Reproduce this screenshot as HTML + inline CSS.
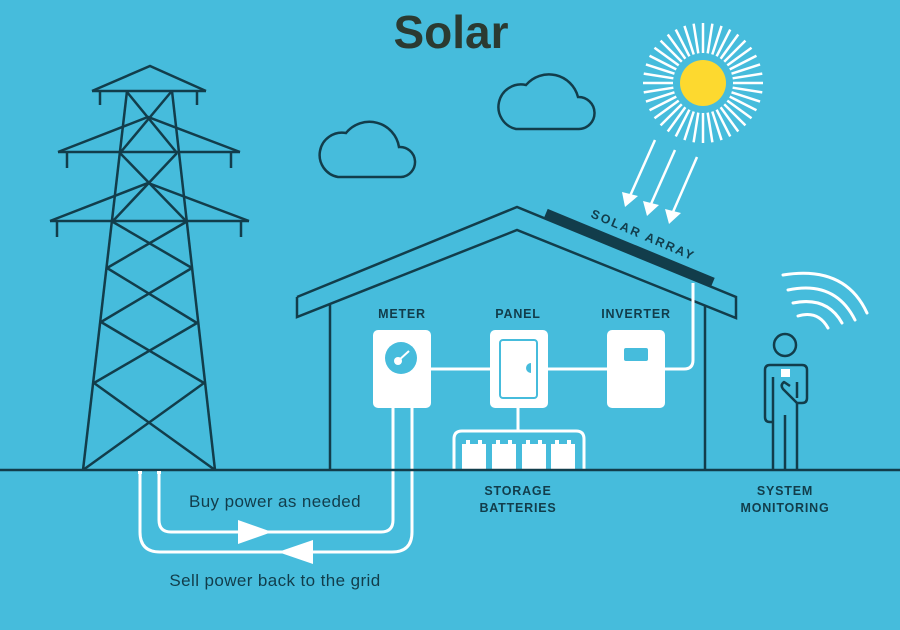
<!DOCTYPE html>
<html><head><meta charset="utf-8"><style>
html,body{margin:0;padding:0;background:#46bcdc;}
svg{display:block}
text{font-family:"Liberation Sans",sans-serif;}
</style></head><body>
<svg width="900" height="630" viewBox="0 0 900 630" xmlns="http://www.w3.org/2000/svg">
<rect width="900" height="630" fill="#46bcdc"/>
<text x="451" y="48" text-anchor="middle" font-size="46" fill="#2b3a31" font-weight="bold">Solar</text>

<!-- tower -->
<g stroke="#123d4b" stroke-width="2.5" fill="none" stroke-linecap="butt">
<line x1="127" y1="91" x2="83" y2="470"/><line x1="172" y1="91" x2="215" y2="470"/>
<polyline points="92,91 150,66 206,91"/><line x1="92" y1="91" x2="206" y2="91"/>
<line x1="100" y1="91" x2="100" y2="105"/><line x1="197" y1="91" x2="197" y2="105"/>
<line x1="58" y1="152" x2="240" y2="152"/><polyline points="58,152 148,117 240,152"/>
<line x1="67" y1="152" x2="67" y2="168"/><line x1="231" y1="152" x2="231" y2="168"/>
<line x1="50" y1="221" x2="249" y2="221"/><polyline points="50,221 148,183 249,221"/>
<line x1="57" y1="221" x2="57" y2="237"/><line x1="241" y1="221" x2="241" y2="237"/>
<line x1="127" y1="92" x2="177" y2="153"/><line x1="171" y1="92" x2="120" y2="153"/>
<line x1="120" y1="153" x2="186" y2="221"/><line x1="177" y1="153" x2="113" y2="221"/>
<line x1="113" y1="222" x2="192" y2="268"/><line x1="186" y1="222" x2="107" y2="268"/>
<line x1="107" y1="268" x2="197" y2="323"/><line x1="192" y1="268" x2="101" y2="322"/>
<line x1="101" y1="322" x2="204" y2="383"/><line x1="197" y1="323" x2="94" y2="383"/>
<line x1="94" y1="383" x2="215" y2="470"/><line x1="204" y1="383" x2="83" y2="470"/>
</g>

<!-- clouds -->
<g stroke="#123d4b" stroke-width="2.5" fill="none">
<path d="M338,177 A22,22 0 0 1 346,133 A30,30 0 0 1 399,147 A15,15 0 0 1 401,177 Z"/>
<path d="M516,129 A22,22 0 0 1 526,85 A30,30 0 0 1 578,97 A16,16 0 0 1 579,129 Z"/>
</g>

<!-- sun -->
<g stroke="#fff" stroke-width="2.5">
<line x1="733" y1="83" x2="763" y2="83"/>
<line x1="733" y1="83" x2="763" y2="83" transform="rotate(9 703 83)"/>
<line x1="733" y1="83" x2="763" y2="83" transform="rotate(18 703 83)"/>
<line x1="733" y1="83" x2="763" y2="83" transform="rotate(27 703 83)"/>
<line x1="733" y1="83" x2="763" y2="83" transform="rotate(36 703 83)"/>
<line x1="733" y1="83" x2="763" y2="83" transform="rotate(45 703 83)"/>
<line x1="733" y1="83" x2="763" y2="83" transform="rotate(54 703 83)"/>
<line x1="733" y1="83" x2="763" y2="83" transform="rotate(63 703 83)"/>
<line x1="733" y1="83" x2="763" y2="83" transform="rotate(72 703 83)"/>
<line x1="733" y1="83" x2="763" y2="83" transform="rotate(81 703 83)"/>
<line x1="733" y1="83" x2="763" y2="83" transform="rotate(90 703 83)"/>
<line x1="733" y1="83" x2="763" y2="83" transform="rotate(99 703 83)"/>
<line x1="733" y1="83" x2="763" y2="83" transform="rotate(108 703 83)"/>
<line x1="733" y1="83" x2="763" y2="83" transform="rotate(117 703 83)"/>
<line x1="733" y1="83" x2="763" y2="83" transform="rotate(126 703 83)"/>
<line x1="733" y1="83" x2="763" y2="83" transform="rotate(135 703 83)"/>
<line x1="733" y1="83" x2="763" y2="83" transform="rotate(144 703 83)"/>
<line x1="733" y1="83" x2="763" y2="83" transform="rotate(153 703 83)"/>
<line x1="733" y1="83" x2="763" y2="83" transform="rotate(162 703 83)"/>
<line x1="733" y1="83" x2="763" y2="83" transform="rotate(171 703 83)"/>
<line x1="733" y1="83" x2="763" y2="83" transform="rotate(180 703 83)"/>
<line x1="733" y1="83" x2="763" y2="83" transform="rotate(189 703 83)"/>
<line x1="733" y1="83" x2="763" y2="83" transform="rotate(198 703 83)"/>
<line x1="733" y1="83" x2="763" y2="83" transform="rotate(207 703 83)"/>
<line x1="733" y1="83" x2="763" y2="83" transform="rotate(216 703 83)"/>
<line x1="733" y1="83" x2="763" y2="83" transform="rotate(225 703 83)"/>
<line x1="733" y1="83" x2="763" y2="83" transform="rotate(234 703 83)"/>
<line x1="733" y1="83" x2="763" y2="83" transform="rotate(243 703 83)"/>
<line x1="733" y1="83" x2="763" y2="83" transform="rotate(252 703 83)"/>
<line x1="733" y1="83" x2="763" y2="83" transform="rotate(261 703 83)"/>
<line x1="733" y1="83" x2="763" y2="83" transform="rotate(270 703 83)"/>
<line x1="733" y1="83" x2="763" y2="83" transform="rotate(279 703 83)"/>
<line x1="733" y1="83" x2="763" y2="83" transform="rotate(288 703 83)"/>
<line x1="733" y1="83" x2="763" y2="83" transform="rotate(297 703 83)"/>
<line x1="733" y1="83" x2="763" y2="83" transform="rotate(306 703 83)"/>
<line x1="733" y1="83" x2="763" y2="83" transform="rotate(315 703 83)"/>
<line x1="733" y1="83" x2="763" y2="83" transform="rotate(324 703 83)"/>
<line x1="733" y1="83" x2="763" y2="83" transform="rotate(333 703 83)"/>
<line x1="733" y1="83" x2="763" y2="83" transform="rotate(342 703 83)"/>
<line x1="733" y1="83" x2="763" y2="83" transform="rotate(351 703 83)"/>
</g>
<circle cx="703" cy="83" r="23" fill="#fdd92f"/>
<g stroke="#fff" stroke-width="2.5" fill="#fff">
<line x1="655" y1="140" x2="630" y2="196"/><polygon points="622,192 638,196 625,207" stroke="none"/>
<line x1="675" y1="150" x2="651" y2="204"/><polygon points="643,201 659,205 647,216" stroke="none"/>
<line x1="697" y1="157" x2="673" y2="212"/><polygon points="665,209 681,213 669,224" stroke="none"/>
</g>

<!-- house -->
<g stroke="#123d4b" stroke-width="2.5" fill="none">
<polyline points="297,297 517,207 736,297 736,318 517,230 297,317 297,297"/>
<line x1="330" y1="305" x2="330" y2="470"/><line x1="705" y1="305" x2="705" y2="470"/>
</g>
<line x1="546" y1="213" x2="713" y2="282" stroke="#123d4b" stroke-width="9"/>
<text transform="translate(590,217) rotate(23)" font-size="12.5" font-weight="bold" fill="#123d4b" letter-spacing="2">SOLAR ARRAY</text>

<g font-size="12.5" font-weight="bold" fill="#123d4b" text-anchor="middle" letter-spacing="0.8">
<text x="402" y="318">METER</text><text x="518" y="318">PANEL</text><text x="636" y="318">INVERTER</text>
<text x="518" y="495">STORAGE</text><text x="518" y="512">BATTERIES</text>
<text x="785" y="495">SYSTEM</text><text x="785" y="512">MONITORING</text>
</g>

<!-- wires -->
<g stroke="#fff" stroke-width="3" fill="none">
<path d="M693,283 V360 Q693,369 684,369 H665"/>
<line x1="430" y1="369" x2="490" y2="369"/><line x1="547" y1="369" x2="607" y2="369"/>
<line x1="518" y1="408" x2="518" y2="431"/>
<path d="M454,470 V439 Q454,431 462,431 H576 Q584,431 584,439 V470"/>
<path d="M393,408 V520 Q393,532 381,532 H171 Q159,532 159,520 V472"/>
<path d="M412,408 V532 Q412,552 392,552 H160 Q140,552 140,532 V472"/>
</g>
<polygon points="238,520 272,532 238,544" fill="#fff"/>
<polygon points="313,540 278,552 313,564" fill="#fff"/>

<!-- boxes -->
<rect x="373" y="330" width="58" height="78" rx="5" fill="#fff"/>
<circle cx="401" cy="358" r="16" fill="#46bcdc"/>
<circle cx="398" cy="361" r="4" fill="#fff"/><line x1="398" y1="361" x2="409" y2="351" stroke="#fff" stroke-width="2"/>
<rect x="490" y="330" width="58" height="78" rx="5" fill="#fff"/>
<rect x="500" y="340" width="37" height="58" rx="3" fill="none" stroke="#46bcdc" stroke-width="2"/>
<path d="M531,363 A5,5 0 0 0 531,373 Z" fill="#46bcdc"/>
<rect x="607" y="330" width="58" height="78" rx="5" fill="#fff"/>
<rect x="624" y="348" width="24" height="13" rx="2" fill="#46bcdc"/>

<!-- batteries -->
<g fill="#fff">
<rect x="462" y="444" width="24" height="27"/><rect x="466" y="440" width="4" height="5"/><rect x="478" y="440" width="4" height="5"/>
<rect x="492" y="444" width="24" height="27"/><rect x="496" y="440" width="4" height="5"/><rect x="508" y="440" width="4" height="5"/>
<rect x="522" y="444" width="24" height="27"/><rect x="526" y="440" width="4" height="5"/><rect x="538" y="440" width="4" height="5"/>
<rect x="551" y="444" width="24" height="27"/><rect x="555" y="440" width="4" height="5"/><rect x="567" y="440" width="4" height="5"/>
</g>

<!-- ground -->
<line x1="0" y1="470" x2="900" y2="470" stroke="#123d4b" stroke-width="2.5"/>
<rect x="138" y="471" width="4" height="3" fill="#fff"/><rect x="157" y="471" width="4" height="3" fill="#fff"/>

<text x="275" y="507" text-anchor="middle" font-size="17" letter-spacing="0.4" fill="#123d4b">Buy power as needed</text>
<text x="275" y="586" text-anchor="middle" font-size="17" letter-spacing="0.4" fill="#123d4b">Sell power back to the grid</text>

<!-- person -->
<g stroke="#123d4b" stroke-width="2.5" fill="none" stroke-linejoin="round">
<circle cx="785" cy="345" r="11"/>
<path d="M773,470 V377 M773,422 H770 Q765,422 765,417 V370 Q765,365 770,365 H802 Q807,365 807,370 V398 Q807,403 802,403 H797 V470 M785,470 V415"/>
<path d="M797,403 L783,389 Q780,385 784,382 L790,386 M797,382 V398"/>
</g>
<rect x="781" y="369" width="9" height="8" fill="#fff"/>
<g stroke="#fff" stroke-width="3" fill="none" stroke-linecap="round">
<path d="M783,275 Q845,265 867,313"/>
<path d="M788,290 Q835,280 855,320"/>
<path d="M793,303 Q827,296 842,323"/>
<path d="M798,316 Q818,310 828,328"/>
</g>
</svg>
</body></html>
